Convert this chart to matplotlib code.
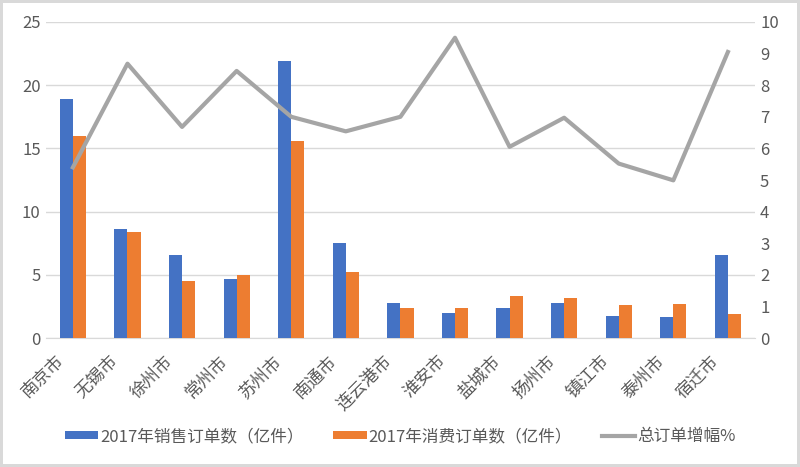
import matplotlib.pyplot as plt
import matplotlib.transforms as mtransforms
import numpy as np

plt.rcParams['font.family'] = ['Noto Sans CJK SC', 'DejaVu Sans']

cities = ['南京市', '无锡市', '徐州市', '常州市', '苏州市', '南通市', '连云港市',
          '淮安市', '盐城市', '扬州市', '镇江市', '泰州市', '宿迁市']
sales = [18.9, 8.6, 6.6, 4.7, 21.9, 7.5, 2.75, 2.0, 2.4, 2.8, 1.75, 1.65, 6.6]
consume = [16.0, 8.4, 4.5, 5.0, 15.6, 5.2, 2.4, 2.4, 3.35, 3.2, 2.6, 2.7, 1.9]
growth = [5.4, 8.68, 6.68, 8.45, 7.0, 6.54, 7.0, 9.5, 6.05, 6.97, 5.52, 4.99, 9.05]

grey_txt = '#595959'

fig = plt.figure(figsize=(8, 4.67), dpi=100)
fig.patch.set_edgecolor('#d9d9d9')
fig.patch.set_linewidth(3)
ax = fig.add_axes([0.057, 0.276, 0.887, 0.677])
ax2 = ax.twinx()

x = np.arange(len(cities))
w = 0.24
b1 = ax.bar(x - w / 2, sales, w, color='#4472C4', label='2017年销售订单数（亿件）', zorder=3)
b2 = ax.bar(x + w / 2, consume, w, color='#ED7D31', label='2017年消费订单数（亿件）', zorder=3)
l1, = ax2.plot(x, growth, color='#A5A5A5', lw=3, label='总订单增幅%', zorder=4)

ax.set_xlim(-0.5, len(cities) - 0.5)
ax.set_ylim(0, 25)
ax2.set_ylim(0, 10)
ax.set_yticks(range(0, 26, 5))
ax2.set_yticks(range(0, 11))
ax.grid(axis='y', color='#d9d9d9', lw=1, zorder=0)
ax.set_axisbelow(True)
for a in (ax, ax2):
    for s in a.spines.values():
        s.set_visible(False)
    a.tick_params(length=0, labelsize=12, labelcolor=grey_txt)
ax.spines['bottom'].set_visible(True)
ax.spines['bottom'].set_color('#d9d9d9')

ax.set_xticks(x)
ax.set_xticklabels(cities, rotation=45, ha='right', rotation_mode='anchor', fontsize=12.5)
offset = mtransforms.ScaledTranslation(-18 / 100, -9 / 100, fig.dpi_scale_trans)
for lab in ax.get_xticklabels():
    lab.set_transform(lab.get_transform() + offset)

leg = fig.legend(handles=[b1, b2, l1], loc='lower center', bbox_to_anchor=(0.5, 0.015),
                 ncol=3, frameon=False, fontsize=12, handlelength=2.0, handleheight=0.4,
                 columnspacing=1.8, handletextpad=0.1)
for t in leg.get_texts():
    t.set_color(grey_txt)

fig.savefig('out.png', dpi=100)
